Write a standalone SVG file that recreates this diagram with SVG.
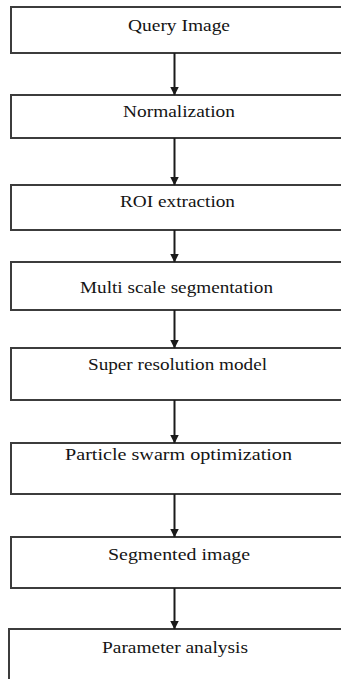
<svg xmlns="http://www.w3.org/2000/svg" width="341" height="679" viewBox="0 0 341 679">
  <style>
    .box { fill: #ffffff; stroke: #3c3c3c; stroke-width: 2; }
    .label { font-family: 'Liberation Serif', 'Times New Roman', serif; font-size: 17px; fill: #141414; text-anchor: middle; }
    .conn { stroke: #1a1a1a; stroke-width: 2; fill: none; marker-end: url(#arrow); }
  </style>
  <defs>
    <marker id="arrow" markerWidth="9" markerHeight="9" refX="8.5" refY="4.5" orient="auto" markerUnits="userSpaceOnUse">
      <path d="M0,0 L9,4.5 L0,9 Z" fill="#1a1a1a"/>
    </marker>
  </defs>
  <rect width="341" height="679" fill="#ffffff"/>

  <g id="node-query">
    <rect class="box" x="11" y="7" width="345" height="46"/>
    <text class="label" x="179" y="31" textLength="102" lengthAdjust="spacingAndGlyphs">Query Image</text>
  </g>
  <g id="node-normalization">
    <rect class="box" x="11" y="95" width="345" height="43"/>
    <text class="label" x="179" y="117" textLength="112" lengthAdjust="spacingAndGlyphs">Normalization</text>
  </g>
  <g id="node-roi">
    <rect class="box" x="11" y="185" width="345" height="45"/>
    <text class="label" x="177.5" y="207" textLength="115" lengthAdjust="spacingAndGlyphs">ROI extraction</text>
  </g>
  <g id="node-multiscale">
    <rect class="box" x="11" y="262" width="345" height="48"/>
    <text class="label" x="176.5" y="293" textLength="193" lengthAdjust="spacingAndGlyphs">Multi scale segmentation</text>
  </g>
  <g id="node-superres">
    <rect class="box" x="11" y="348" width="345" height="52"/>
    <text class="label" x="177.5" y="370" textLength="179" lengthAdjust="spacingAndGlyphs">Super resolution model</text>
  </g>
  <g id="node-pso">
    <rect class="box" x="11" y="443" width="345" height="51"/>
    <text class="label" x="178.5" y="460" textLength="227" lengthAdjust="spacingAndGlyphs">Particle swarm optimization</text>
  </g>
  <g id="node-segmented">
    <rect class="box" x="11" y="537" width="345" height="51"/>
    <text class="label" x="179" y="560" textLength="142" lengthAdjust="spacingAndGlyphs">Segmented image</text>
  </g>
  <g id="node-parameter">
    <rect class="box" x="9" y="629" width="347" height="60"/>
    <text class="label" x="175" y="653" textLength="146" lengthAdjust="spacingAndGlyphs">Parameter analysis</text>
  </g>

  <g id="connectors">
    <line class="conn" x1="174.5" y1="53" x2="174.5" y2="95"/>
    <line class="conn" x1="174.5" y1="138" x2="174.5" y2="185"/>
    <line class="conn" x1="174.5" y1="230" x2="174.5" y2="262"/>
    <line class="conn" x1="174.5" y1="310" x2="174.5" y2="348"/>
    <line class="conn" x1="174.5" y1="400" x2="174.5" y2="443"/>
    <line class="conn" x1="174.5" y1="494" x2="174.5" y2="537"/>
    <line class="conn" x1="174.5" y1="588" x2="174.5" y2="629"/>
  </g>
</svg>
